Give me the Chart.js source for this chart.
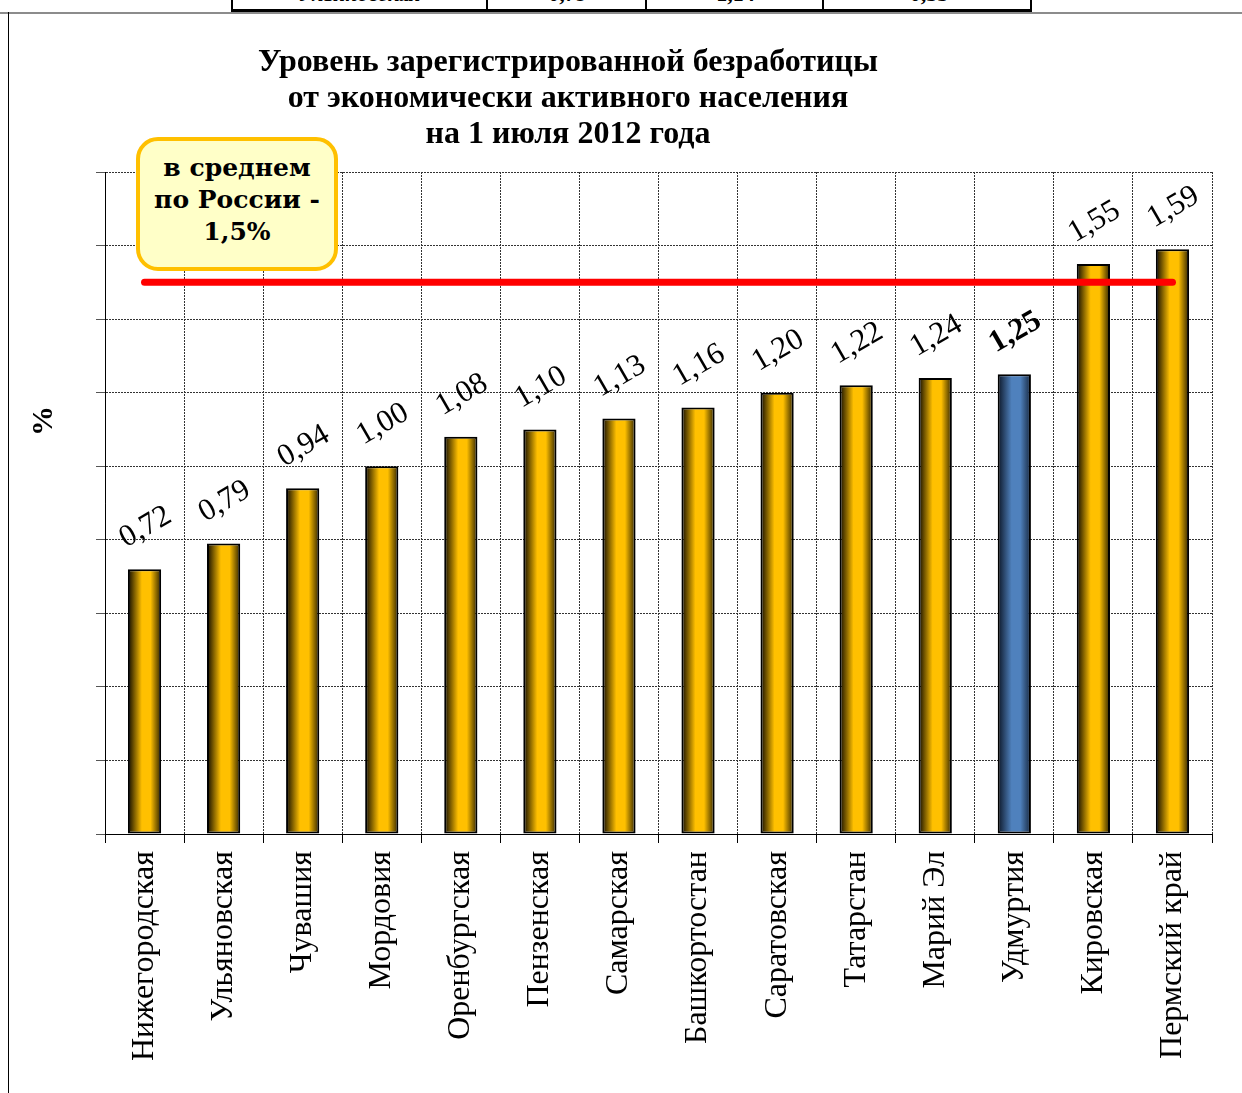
<!DOCTYPE html>
<html lang="ru">
<head>
<meta charset="utf-8">
<title>Уровень зарегистрированной безработицы</title>
<script src="https://cdn.jsdelivr.net/npm/chart.js@4.4.1/dist/chart.umd.min.js"></script>
<style>
  body { margin: 0; background: #fff; font-family: 'Liberation Serif', 'Times New Roman', serif; }
  #page { position: relative; width: 1242px; height: 1093px; overflow: hidden; }
  #chart { position: absolute; left: 0; top: 0; }
  .frame-top { position: absolute; left: 0; top: 12px; width: 1242px; height: 2px; background: #8c8c8c; }
  .frame-left { position: absolute; left: 8px; top: 12px; width: 1px; height: 1081px; background: #000; }
  .tbl { position: absolute; left: 231px; top: 0; width: 797px; height: 9px;
         border-left: 2px solid #000; border-right: 2px solid #000; border-bottom: 3px solid #000; }
  .tbl .cell { position: absolute; top: 0; height: 9px; overflow: hidden; }
  .tbl .cell + .cell { border-left: 2px solid #000; }
  .tbl .cell span { position: absolute; left: 0; right: 0; top: -17px; text-align: center;
                    font-size: 22px; line-height: 22px; font-weight: bold; }
  .title { position: absolute; left: 118px; width: 900px; top: 42px; text-align: center;
           font-weight: bold; font-size: 32px; line-height: 36px; white-space: nowrap; }
  .note { position: absolute; left: 136px; top: 137px; width: 194px; height: 126px;
          border: 4px solid #FFC000; border-radius: 22px; background: #FFFFC8;
          text-align: center; font-weight: bold; font-size: 25px; line-height: 32px;
          font-family: 'DejaVu Serif', serif;
          box-sizing: content-box; display: flex; align-items: center; justify-content: center; }
  .note span { position: relative; top: -4px; }
  .ylabel { position: absolute; left: 22px; top: 405px; width: 40px; height: 32px; text-align: center;
            font-weight: bold; font-size: 30px; line-height: 32px; transform: rotate(-90deg); }
</style>
</head>
<body>
<div id="page">
  <div class="tbl" id="tbl"></div>
  <div class="frame-top"></div>
  <div class="frame-left"></div>
  <canvas id="chart" width="1242" height="1093"></canvas>
  <div class="title">Уровень зарегистрированной безработицы<br>от экономически активного населения<br>на 1 июля 2012 года</div>
  <div class="note"><span>в среднем<br>по России -<br>1,5%</span></div>
  <div class="ylabel">%</div>
</div>
<script>
// регионы и уровень безработицы, %
const regions = ['Нижегородская', 'Ульяновская', 'Чувашия', 'Мордовия', 'Оренбургская', 'Пензенская',
  'Самарская', 'Башкортостан', 'Саратовская', 'Татарстан', 'Марий Эл', 'Удмуртия', 'Кировская', 'Пермский край'];
const rates = [0.72, 0.79, 0.94, 1.00, 1.08, 1.10, 1.13, 1.16, 1.20, 1.22, 1.24, 1.25, 1.55, 1.59];
const highlightRegion = 'Удмуртия';
const avgRussia = 1.5;
const yMin = 0;
const yMax = 1.8;
const yStep = 0.2;

// обрезанная строка таблицы сверху страницы
const tableRow = ['Ульяновская', '0,79', '1,14', '0,55'];
const tableCols = [253, 159, 177, 210];

const serif = "'Liberation Serif', 'Times New Roman', serif";
const barPct = 0.42;

// верхний фрагмент таблицы
(function () {
  const tbl = document.getElementById('tbl');
  let left = 0;
  tableRow.forEach((txt, i) => {
    const cell = document.createElement('div');
    cell.className = 'cell';
    cell.style.left = left + 'px';
    cell.style.width = tableCols[i] + 'px';
    const s = document.createElement('span');
    s.textContent = txt;
    if (i === 0) s.style.fontStyle = 'italic';
    cell.appendChild(s);
    tbl.appendChild(cell);
    left += tableCols[i];
  });
})();

function fmt(v) {
  return v.toFixed(2).replace('.', ',');
}

// цилиндрическая заливка столбика
function barFill(ctx) {
  const chart = ctx.chart;
  const xs = chart.scales.x;
  const isHl = regions[ctx.dataIndex] === highlightRegion;
  if (!xs || !chart.chartArea) return isHl ? '#4F81BD' : '#FFC000';
  const cx = xs.getPixelForValue(ctx.dataIndex);
  const half = (xs.width / regions.length) * barPct / 2;
  const g = chart.ctx.createLinearGradient(cx - half, 0, cx + half, 0);
  if (isHl) {
    g.addColorStop(0, '#0b1526');
    g.addColorStop(0.42, '#4F81BD');
    g.addColorStop(0.68, '#4F81BD');
    g.addColorStop(1, '#16263d');
  } else {
    g.addColorStop(0, '#0d0800');
    g.addColorStop(0.42, '#FFC000');
    g.addColorStop(0.68, '#FFC000');
    g.addColorStop(1, '#2e2200');
  }
  return g;
}

// подписи значений над столбиками + линия среднего по России
const overlayPlugin = {
  id: 'overlay',
  afterDatasetsDraw(chart) {
    const { ctx, scales } = chart;
    const meta = chart.getDatasetMeta(0);

    // красная линия среднего
    const yAvg = scales.y.getPixelForValue(avgRussia);
    ctx.save();
    ctx.strokeStyle = '#FF0000';
    ctx.lineWidth = 7;
    ctx.lineCap = 'round';
    ctx.beginPath();
    ctx.moveTo(scales.x.getPixelForValue(0), yAvg);
    ctx.lineTo(scales.x.getPixelForValue(regions.length - 1), yAvg);
    ctx.stroke();
    ctx.restore();

    meta.data.forEach((bar, i) => {
      ctx.save();
      ctx.translate(bar.x + 1, bar.y - 42);
      ctx.rotate(-30 * Math.PI / 180);
      ctx.font = (regions[i] === highlightRegion ? 'bold ' : '') + '31px ' + serif;
      ctx.fillStyle = '#000';
      ctx.textAlign = 'center';
      ctx.textBaseline = 'middle';
      ctx.fillText(fmt(rates[i]), 0, 0);
      ctx.restore();
    });
  }
};

new Chart(document.getElementById('chart'), {
  type: 'bar',
  data: {
    labels: regions,
    datasets: [{
      data: rates,
      backgroundColor: barFill,
      borderColor: '#000',
      borderWidth: 2,
      borderSkipped: false,
      categoryPercentage: 1,
      barPercentage: barPct
    }]
  },
  options: {
    responsive: false,
    animation: false,
    layout: { padding: { top: 172, right: 30, left: 0, bottom: 0 } },
    plugins: {
      legend: { display: false },
      title: { display: false },
      tooltip: { enabled: false }
    },
    scales: {
      x: {
        afterFit(scale) { scale.height = 259; },
        border: { color: '#000', width: 1, dash: [2, 1] },
        grid: {
          offset: true,
          color: '#333',
          lineWidth: 1,
          drawTicks: true,
          tickLength: 9,
          tickColor: '#000',
          tickBorderDash: []
        },
        ticks: {
          autoSkip: false,
          minRotation: 90,
          maxRotation: 90,
          padding: 8,
          color: '#000',
          font: { family: serif, size: 32 }
        }
      },
      y: {
        min: yMin,
        max: yMax,
        afterFit(scale) { scale.width = 105; },
        border: { color: '#000', width: 1, dash: [2, 1] },
        grid: {
          color: '#333',
          lineWidth: 1,
          drawTicks: true,
          tickLength: 9,
          tickColor: '#555',
          tickBorderDash: []
        },
        ticks: { display: false, stepSize: yStep }
      }
    }
  },
  plugins: [overlayPlugin]
});
</script>
</body>
</html>
